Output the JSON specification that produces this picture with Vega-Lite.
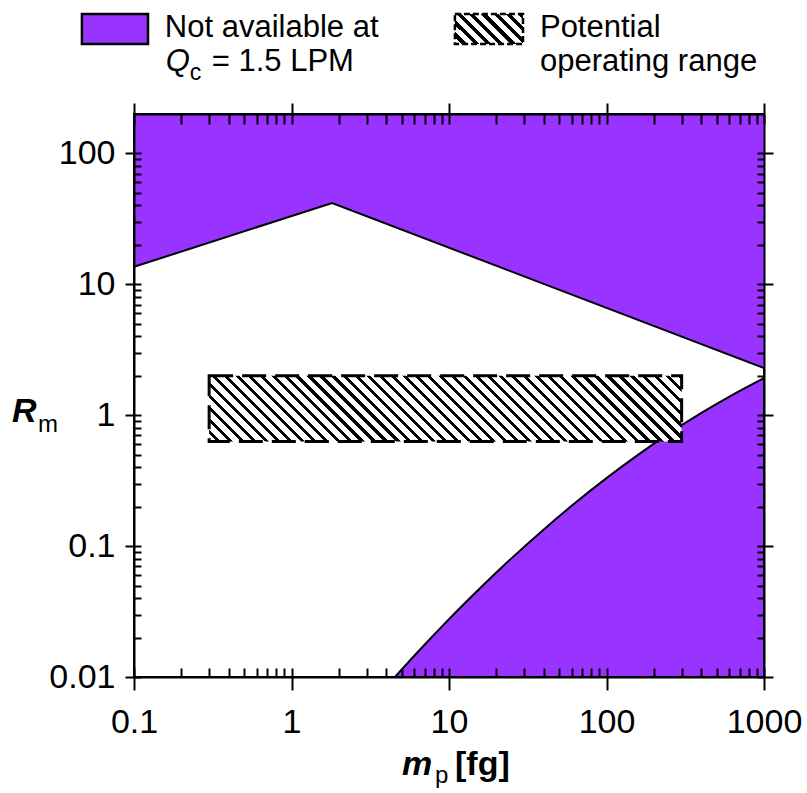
{
  "$schema": "https://vega.github.io/schema/vega-lite/v6.json",
  "autosize": {"type": "none"},
  "padding": {"left": 134, "top": 114, "right": 43, "bottom": 116},
  "width": 630,
  "height": 563,
  "background": "white",
  "config": {
    "view": {"stroke": "black", "strokeWidth": 2},
    "axis": {"tickColor": "black", "tickWidth": 2, "domainColor": "black", "domainWidth": 2, "labelColor": "black", "labelFont": "Liberation Sans", "labelFontSize": 34, "grid": false, "labelFlush": false, "labelOverlap": false, "labelBound": false, "title": null},
    "text": {"font": "Liberation Sans", "fontSize": 31, "color": "black", "align": "left", "baseline": "alphabetic"}
  },
  "resolve": {"axis": {"x": "independent", "y": "independent"}},
  "layer": [
    {
      "data": {"values": [{"m": 0.1, "r": 13.6}, {"m": 1.81, "r": 41.8}, {"m": 1000, "r": 2.29}]},
      "mark": {"type": "area", "fill": "#9933ff", "stroke": null},
      "encoding": {
        "x": {"field": "m", "type": "quantitative", "scale": {"type": "log", "domain": [0.1, 1000], "nice": false}, "axis": {"orient": "bottom", "values": [0.1, 1, 10, 100, 1000], "tickSize": 13, "labelPadding": 15, "labelExpr": "'' + datum.value", "domain": true, "zindex": 2}},
        "y": {"field": "r", "type": "quantitative", "scale": {"type": "log", "domain": [0.01, 200], "nice": false}, "axis": {"orient": "left", "values": [0.01, 0.1, 1, 10, 100], "tickSize": 9, "labelPadding": 10, "labelExpr": "'' + datum.value", "domain": true, "zindex": 2}},
        "y2": {"datum": 200}
      }
    },
    {
      "data": {"values": [{"m": 4.54, "r": 0.01}, {"m": 6.31, "r": 0.01545}, {"m": 10, "r": 0.0277}, {"m": 15.85, "r": 0.0481}, {"m": 25.1, "r": 0.0813}, {"m": 39.8, "r": 0.1336}, {"m": 63.1, "r": 0.2132}, {"m": 100, "r": 0.3304}, {"m": 158.5, "r": 0.4977}, {"m": 251, "r": 0.729}, {"m": 398, "r": 1.036}, {"m": 631, "r": 1.432}, {"m": 1000, "r": 1.923}]},
      "mark": {"type": "area", "fill": "#9933ff", "stroke": "black", "strokeWidth": 2, "interpolate": "monotone"},
      "encoding": {
        "x": {"field": "m", "type": "quantitative", "scale": {"type": "log", "domain": [0.1, 1000], "nice": false}, "axis": {"orient": "bottom", "values": [0.1,0.2,0.3,0.4,0.5,0.6,0.7,0.8,0.9,1,2,3,4,5,6,7,8,9,10,20,30,40,50,60,70,80,90,100,200,300,400,500,600,700,800,900,1000], "tickSize": -9, "labels": false, "domain": false, "zindex": 2}},
        "y": {"field": "r", "type": "quantitative", "scale": {"type": "log", "domain": [0.01, 200], "nice": false}, "axis": {"orient": "left", "values": [0.01,0.02,0.03,0.04,0.05,0.06,0.07,0.08,0.09,0.1,0.2,0.3,0.4,0.5,0.6,0.7,0.8,0.9,1,2,3,4,5,6,7,8,9,10,20,30,40,50,60,70,80,90,100], "tickSize": -7, "labels": false, "domain": false, "zindex": 2}},
        "y2": {"datum": 0.01}
      }
    },
    {
      "data": {"values": [{"m1": 0.3, "m2": 300, "r1": 0.63, "r2": 2}]},
      "mark": {"type": "rect", "stroke": "black", "strokeWidth": 3, "strokeDash": [24, 9],
        "fill": {"gradient": "linear", "x1": 0, "y1": 1, "x2": 1.1174, "y2": 0.8447, "stops": [
          {"offset":0,"color":"#fff"},{"offset":0.0144,"color":"#fff"},{"offset":0.0144,"color":"#000"},{"offset":0.0222,"color":"#000"},
          {"offset":0.0222,"color":"#fff"},{"offset":0.0367,"color":"#fff"},{"offset":0.0367,"color":"#000"},{"offset":0.0444,"color":"#000"},
          {"offset":0.0444,"color":"#fff"},{"offset":0.0589,"color":"#fff"},{"offset":0.0589,"color":"#000"},{"offset":0.0667,"color":"#000"},
          {"offset":0.0667,"color":"#fff"},{"offset":0.0811,"color":"#fff"},{"offset":0.0811,"color":"#000"},{"offset":0.0889,"color":"#000"},
          {"offset":0.0889,"color":"#fff"},{"offset":0.1033,"color":"#fff"},{"offset":0.1033,"color":"#000"},{"offset":0.1111,"color":"#000"},
          {"offset":0.1111,"color":"#fff"},{"offset":0.1256,"color":"#fff"},{"offset":0.1256,"color":"#000"},{"offset":0.1333,"color":"#000"},
          {"offset":0.1333,"color":"#fff"},{"offset":0.1478,"color":"#fff"},{"offset":0.1478,"color":"#000"},{"offset":0.1556,"color":"#000"},
          {"offset":0.1556,"color":"#fff"},{"offset":0.17,"color":"#fff"},{"offset":0.17,"color":"#000"},{"offset":0.1778,"color":"#000"},
          {"offset":0.1778,"color":"#fff"},{"offset":0.1922,"color":"#fff"},{"offset":0.1922,"color":"#000"},{"offset":0.2,"color":"#000"},
          {"offset":0.2,"color":"#fff"},{"offset":0.2144,"color":"#fff"},{"offset":0.2144,"color":"#000"},{"offset":0.2222,"color":"#000"},
          {"offset":0.2222,"color":"#fff"},{"offset":0.2367,"color":"#fff"},{"offset":0.2367,"color":"#000"},{"offset":0.2444,"color":"#000"},
          {"offset":0.2444,"color":"#fff"},{"offset":0.2589,"color":"#fff"},{"offset":0.2589,"color":"#000"},{"offset":0.2667,"color":"#000"},
          {"offset":0.2667,"color":"#fff"},{"offset":0.2811,"color":"#fff"},{"offset":0.2811,"color":"#000"},{"offset":0.2889,"color":"#000"},
          {"offset":0.2889,"color":"#fff"},{"offset":0.3033,"color":"#fff"},{"offset":0.3033,"color":"#000"},{"offset":0.3111,"color":"#000"},
          {"offset":0.3111,"color":"#fff"},{"offset":0.3256,"color":"#fff"},{"offset":0.3256,"color":"#000"},{"offset":0.3333,"color":"#000"},
          {"offset":0.3333,"color":"#fff"},{"offset":0.3478,"color":"#fff"},{"offset":0.3478,"color":"#000"},{"offset":0.3556,"color":"#000"},
          {"offset":0.3556,"color":"#fff"},{"offset":0.37,"color":"#fff"},{"offset":0.37,"color":"#000"},{"offset":0.3778,"color":"#000"},
          {"offset":0.3778,"color":"#fff"},{"offset":0.3922,"color":"#fff"},{"offset":0.3922,"color":"#000"},{"offset":0.4,"color":"#000"},
          {"offset":0.4,"color":"#fff"},{"offset":0.4144,"color":"#fff"},{"offset":0.4144,"color":"#000"},{"offset":0.4222,"color":"#000"},
          {"offset":0.4222,"color":"#fff"},{"offset":0.4367,"color":"#fff"},{"offset":0.4367,"color":"#000"},{"offset":0.4444,"color":"#000"},
          {"offset":0.4444,"color":"#fff"},{"offset":0.4589,"color":"#fff"},{"offset":0.4589,"color":"#000"},{"offset":0.4667,"color":"#000"},
          {"offset":0.4667,"color":"#fff"},{"offset":0.4811,"color":"#fff"},{"offset":0.4811,"color":"#000"},{"offset":0.4889,"color":"#000"},
          {"offset":0.4889,"color":"#fff"},{"offset":0.5033,"color":"#fff"},{"offset":0.5033,"color":"#000"},{"offset":0.5111,"color":"#000"},
          {"offset":0.5111,"color":"#fff"},{"offset":0.5256,"color":"#fff"},{"offset":0.5256,"color":"#000"},{"offset":0.5333,"color":"#000"},
          {"offset":0.5333,"color":"#fff"},{"offset":0.5478,"color":"#fff"},{"offset":0.5478,"color":"#000"},{"offset":0.5556,"color":"#000"},
          {"offset":0.5556,"color":"#fff"},{"offset":0.57,"color":"#fff"},{"offset":0.57,"color":"#000"},{"offset":0.5778,"color":"#000"},
          {"offset":0.5778,"color":"#fff"},{"offset":0.5922,"color":"#fff"},{"offset":0.5922,"color":"#000"},{"offset":0.6,"color":"#000"},
          {"offset":0.6,"color":"#fff"},{"offset":0.6144,"color":"#fff"},{"offset":0.6144,"color":"#000"},{"offset":0.6222,"color":"#000"},
          {"offset":0.6222,"color":"#fff"},{"offset":0.6367,"color":"#fff"},{"offset":0.6367,"color":"#000"},{"offset":0.6444,"color":"#000"},
          {"offset":0.6444,"color":"#fff"},{"offset":0.6589,"color":"#fff"},{"offset":0.6589,"color":"#000"},{"offset":0.6667,"color":"#000"},
          {"offset":0.6667,"color":"#fff"},{"offset":0.6811,"color":"#fff"},{"offset":0.6811,"color":"#000"},{"offset":0.6889,"color":"#000"},
          {"offset":0.6889,"color":"#fff"},{"offset":0.7033,"color":"#fff"},{"offset":0.7033,"color":"#000"},{"offset":0.7111,"color":"#000"},
          {"offset":0.7111,"color":"#fff"},{"offset":0.7256,"color":"#fff"},{"offset":0.7256,"color":"#000"},{"offset":0.7333,"color":"#000"},
          {"offset":0.7333,"color":"#fff"},{"offset":0.7478,"color":"#fff"},{"offset":0.7478,"color":"#000"},{"offset":0.7556,"color":"#000"},
          {"offset":0.7556,"color":"#fff"},{"offset":0.77,"color":"#fff"},{"offset":0.77,"color":"#000"},{"offset":0.7778,"color":"#000"},
          {"offset":0.7778,"color":"#fff"},{"offset":0.7922,"color":"#fff"},{"offset":0.7922,"color":"#000"},{"offset":0.8,"color":"#000"},
          {"offset":0.8,"color":"#fff"},{"offset":0.8144,"color":"#fff"},{"offset":0.8144,"color":"#000"},{"offset":0.8222,"color":"#000"},
          {"offset":0.8222,"color":"#fff"},{"offset":0.8367,"color":"#fff"},{"offset":0.8367,"color":"#000"},{"offset":0.8444,"color":"#000"},
          {"offset":0.8444,"color":"#fff"},{"offset":0.8589,"color":"#fff"},{"offset":0.8589,"color":"#000"},{"offset":0.8667,"color":"#000"},
          {"offset":0.8667,"color":"#fff"},{"offset":0.8811,"color":"#fff"},{"offset":0.8811,"color":"#000"},{"offset":0.8889,"color":"#000"},
          {"offset":0.8889,"color":"#fff"},{"offset":0.9033,"color":"#fff"},{"offset":0.9033,"color":"#000"},{"offset":0.9111,"color":"#000"},
          {"offset":0.9111,"color":"#fff"},{"offset":0.9256,"color":"#fff"},{"offset":0.9256,"color":"#000"},{"offset":0.9333,"color":"#000"},
          {"offset":0.9333,"color":"#fff"},{"offset":0.9478,"color":"#fff"},{"offset":0.9478,"color":"#000"},{"offset":0.9556,"color":"#000"},
          {"offset":0.9556,"color":"#fff"},{"offset":0.97,"color":"#fff"},{"offset":0.97,"color":"#000"},{"offset":0.9778,"color":"#000"},
          {"offset":0.9778,"color":"#fff"},{"offset":0.9922,"color":"#fff"},{"offset":0.9922,"color":"#000"},{"offset":1,"color":"#000"}
        ]}},
      "encoding": {
        "x": {"field": "m1", "type": "quantitative", "axis": {"orient": "top", "values": [0.1, 1, 10, 100, 1000], "tickSize": 11, "labels": false, "domain": true, "zindex": 2}},
        "x2": {"field": "m2"},
        "y": {"field": "r1", "type": "quantitative", "axis": {"orient": "right", "values": [0.01, 0.1, 1, 10, 100], "tickSize": 9, "labels": false, "domain": true, "zindex": 2}},
        "y2": {"field": "r2"}
      }
    },
    {
      "data": {"values": [{"m": 0.1, "r": 13.6}, {"m": 1.81, "r": 41.8}, {"m": 1000, "r": 2.29}]},
      "mark": {"type": "line", "color": "black", "strokeWidth": 2},
      "encoding": {
        "x": {"field": "m", "type": "quantitative", "axis": {"orient": "top", "values": [0.1,0.2,0.3,0.4,0.5,0.6,0.7,0.8,0.9,1,2,3,4,5,6,7,8,9,10,20,30,40,50,60,70,80,90,100,200,300,400,500,600,700,800,900,1000], "tickSize": -10, "labels": false, "domain": false, "zindex": 2}},
        "y": {"field": "r", "type": "quantitative", "axis": {"orient": "right", "values": [0.01,0.02,0.03,0.04,0.05,0.06,0.07,0.08,0.09,0.1,0.2,0.3,0.4,0.5,0.6,0.7,0.8,0.9,1,2,3,4,5,6,7,8,9,10,20,30,40,50,60,70,80,90,100], "tickSize": -7, "labels": false, "domain": false, "zindex": 2}}
      }
    },
    {
      "data": {"values": [{}]},
      "mark": {"type": "rect", "fill": "#9933ff", "stroke": "black", "strokeWidth": 2.5},
      "encoding": {
        "x": {"datum": 0.0467, "type": "quantitative", "axis": null}, "x2": {"datum": 0.1227},
        "y": {"datum": 1161, "type": "quantitative", "axis": null}, "y2": {"datum": 685}
      }
    },
    {
      "data": {"values": [{}]},
      "mark": {"type": "rect", "stroke": "black", "strokeWidth": 2.5, "strokeDash": [6, 3],
        "fill": {"gradient": "linear", "x1": 0, "y1": 1, "x2": 1.2064, "y2": 0.468, "stops": [
          {"offset":0,"color":"#fff"},{"offset":0.07,"color":"#fff"},{"offset":0.07,"color":"#000"},{"offset":0.125,"color":"#000"},
          {"offset":0.125,"color":"#fff"},{"offset":0.195,"color":"#fff"},{"offset":0.195,"color":"#000"},{"offset":0.25,"color":"#000"},
          {"offset":0.25,"color":"#fff"},{"offset":0.32,"color":"#fff"},{"offset":0.32,"color":"#000"},{"offset":0.375,"color":"#000"},
          {"offset":0.375,"color":"#fff"},{"offset":0.445,"color":"#fff"},{"offset":0.445,"color":"#000"},{"offset":0.5,"color":"#000"},
          {"offset":0.5,"color":"#fff"},{"offset":0.57,"color":"#fff"},{"offset":0.57,"color":"#000"},{"offset":0.625,"color":"#000"},
          {"offset":0.625,"color":"#fff"},{"offset":0.695,"color":"#fff"},{"offset":0.695,"color":"#000"},{"offset":0.75,"color":"#000"},
          {"offset":0.75,"color":"#fff"},{"offset":0.82,"color":"#fff"},{"offset":0.82,"color":"#000"},{"offset":0.875,"color":"#000"},
          {"offset":0.875,"color":"#fff"},{"offset":0.945,"color":"#fff"},{"offset":0.945,"color":"#000"},{"offset":1,"color":"#000"}
        ]}},
      "encoding": {
        "x": {"datum": 10.9, "type": "quantitative", "axis": null}, "x2": {"datum": 29.5},
        "y": {"datum": 1161, "type": "quantitative", "axis": null}, "y2": {"datum": 685}
      }
    },
    {
      "data": {"values": [{}]},
      "mark": {"type": "text", "text": "Not available at"},
      "encoding": {"x": {"datum": 0.157, "type": "quantitative", "axis": null}, "y": {"datum": 774, "type": "quantitative", "axis": null}}
    },
    {
      "data": {"values": [{}]},
      "mark": {"type": "text", "text": "Q", "fontStyle": "italic"},
      "encoding": {"x": {"datum": 0.159, "type": "quantitative", "axis": null}, "y": {"datum": 426, "type": "quantitative", "axis": null}}
    },
    {
      "data": {"values": [{}]},
      "mark": {"type": "text", "text": "c", "fontSize": 23, "dx": 24, "dy": 9},
      "encoding": {"x": {"datum": 0.159, "type": "quantitative", "axis": null}, "y": {"datum": 426, "type": "quantitative", "axis": null}}
    },
    {
      "data": {"values": [{}]},
      "mark": {"type": "text", "text": "= 1.5 LPM", "dx": 46},
      "encoding": {"x": {"datum": 0.159, "type": "quantitative", "axis": null}, "y": {"datum": 426, "type": "quantitative", "axis": null}}
    },
    {
      "data": {"values": [{}]},
      "mark": {"type": "text", "text": "Potential"},
      "encoding": {"x": {"datum": 37.8, "type": "quantitative", "axis": null}, "y": {"datum": 774, "type": "quantitative", "axis": null}}
    },
    {
      "data": {"values": [{}]},
      "mark": {"type": "text", "text": "operating range"},
      "encoding": {"x": {"datum": 37.8, "type": "quantitative", "axis": null}, "y": {"datum": 426, "type": "quantitative", "axis": null}}
    },
    {
      "data": {"values": [{}]},
      "mark": {"type": "text", "text": "m", "fontSize": 34, "fontStyle": "italic", "fontWeight": "bold"},
      "encoding": {"x": {"datum": 5.03, "type": "quantitative", "axis": null}, "y": {"datum": 0.00178, "type": "quantitative", "axis": null}}
    },
    {
      "data": {"values": [{}]},
      "mark": {"type": "text", "text": "p", "fontSize": 24, "dx": 33, "dy": 8},
      "encoding": {"x": {"datum": 5.03, "type": "quantitative", "axis": null}, "y": {"datum": 0.00178, "type": "quantitative", "axis": null}}
    },
    {
      "data": {"values": [{}]},
      "mark": {"type": "text", "text": "[fg]", "fontSize": 34, "fontWeight": "bold", "dx": 53},
      "encoding": {"x": {"datum": 5.03, "type": "quantitative", "axis": null}, "y": {"datum": 0.00178, "type": "quantitative", "axis": null}}
    },
    {
      "data": {"values": [{}]},
      "mark": {"type": "text", "text": "R", "fontSize": 34, "fontStyle": "italic", "fontWeight": "bold"},
      "encoding": {"x": {"datum": 0.0168, "type": "quantitative", "axis": null}, "y": {"datum": 0.887, "type": "quantitative", "axis": null}}
    },
    {
      "data": {"values": [{}]},
      "mark": {"type": "text", "text": "m", "fontSize": 24, "dx": 26, "dy": 10},
      "encoding": {"x": {"datum": 0.0168, "type": "quantitative", "axis": null}, "y": {"datum": 0.887, "type": "quantitative", "axis": null}}
    }
  ]
}
